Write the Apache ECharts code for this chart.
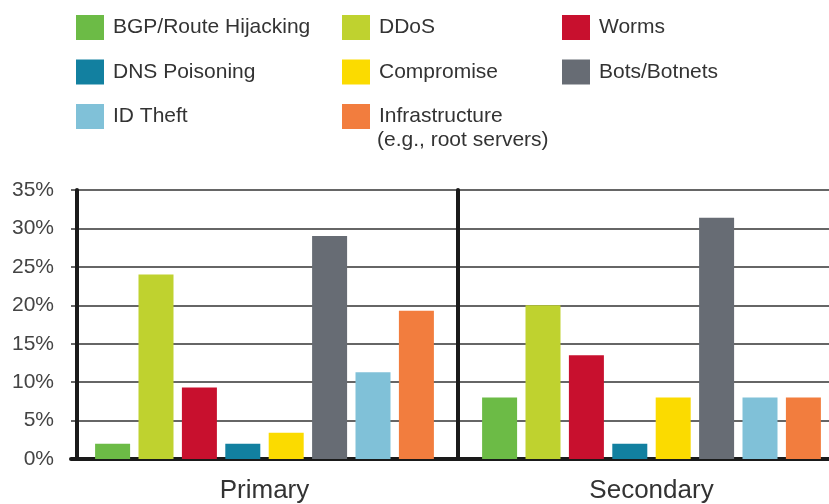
<!DOCTYPE html>
<html>
<head>
<meta charset="utf-8">
<script src="https://cdn.jsdelivr.net/npm/echarts@6/dist/echarts.min.js"></script>
<style>
html,body{margin:0;padding:0;background:#fff;}
#chart{width:829px;height:504px;}
</style>
</head>
<body>
<div id="chart"></div>
<script>
const categories = ['Primary', 'Secondary'];
const seriesNames = ['BGP/Route Hijacking', 'DDoS', 'Worms', 'DNS Poisoning', 'Compromise', 'Bots/Botnets', 'ID Theft', 'Infrastructure'];
const bgp = [2, 8];
const ddos = [24, 20];
const worms = [9.3, 13.5];
const dns = [2, 2];
const compromise = [3.4, 8];
const bots = [29, 31.4];
const idTheft = [11.3, 8];
const infrastructure = [19.3, 8];
const yTicks = [0, 5, 10, 15, 20, 25, 30, 35];
const infraNote = '(e.g., root servers)';

const colors = ['#6cbb46', '#bfd22f', '#c8102e', '#1280a0', '#fbdb00', '#676c74', '#80c1d8', '#f27d3e'];
const values = [bgp, ddos, worms, dns, compromise, bots, idTheft, infrastructure];

const FONT = '"Liberation Sans", Arial, sans-serif';
const chart = echarts.init(document.getElementById('chart'));

const legendBase = {
  orient: 'vertical',
  top: 15,
  padding: 0,
  itemWidth: 28,
  itemHeight: 25,
  itemGap: 19.5,
  icon: 'rect',
  selectedMode: false,
  textStyle: { fontFamily: FONT, fontSize: 21, color: '#333', padding: [0, 0, 0, 4] }
};

chart.setOption({
  animation: false,
  backgroundColor: '#fff',
  color: colors,
  legend: [
    Object.assign({}, legendBase, { left: 76, data: [seriesNames[0], seriesNames[3], seriesNames[6]] }),
    Object.assign({}, legendBase, { left: 342, data: [seriesNames[1], seriesNames[4], seriesNames[7]] }),
    Object.assign({}, legendBase, { left: 562, data: [seriesNames[2], seriesNames[5]] })
  ],
  graphic: [{
    type: 'text',
    left: 377,
    top: 130,
    style: { text: infraNote, fontFamily: FONT, fontSize: 21, fill: '#333' }
  }],
  grid: { left: 71, right: -16, top: 190, bottom: 45, containLabel: false, outerBoundsMode: 'none' },
  xAxis: {
    type: 'category',
    data: categories,
    axisTick: { show: false },
    axisLine: { lineStyle: { color: '#1a1a1a', width: 4 } },
    axisLabel: { fontFamily: FONT, fontSize: 26, color: '#333', margin: 19 },
    splitLine: { show: false }
  },
  yAxis: [{
    type: 'value',
    min: yTicks[0],
    max: yTicks[yTicks.length - 1],
    interval: 5,
    offset: -6,
    axisLine: { show: true, lineStyle: { color: '#1a1a1a', width: 4 } },
    axisTick: { show: false },
    axisLabel: { fontFamily: FONT, fontSize: 21, color: '#444', margin: 23, formatter: '{value}%' },
    splitLine: { show: true, lineStyle: { color: '#333', width: 1.5 } }
  }, {
    type: 'value',
    position: 'left',
    min: yTicks[0],
    max: yTicks[yTicks.length - 1],
    interval: 5,
    offset: -387,
    axisLine: { show: true, lineStyle: { color: '#1a1a1a', width: 4 } },
    axisTick: { show: false },
    axisLabel: { show: false },
    splitLine: { show: false }
  }],
  series: seriesNames.map((name, i) => ({
    name: name,
    type: 'bar',
    data: values[i],
    barWidth: 35,
    barGap: '24%',
    yAxisIndex: 0,
    itemStyle: { color: colors[i] }
  }))
});
</script>
</body>
</html>
